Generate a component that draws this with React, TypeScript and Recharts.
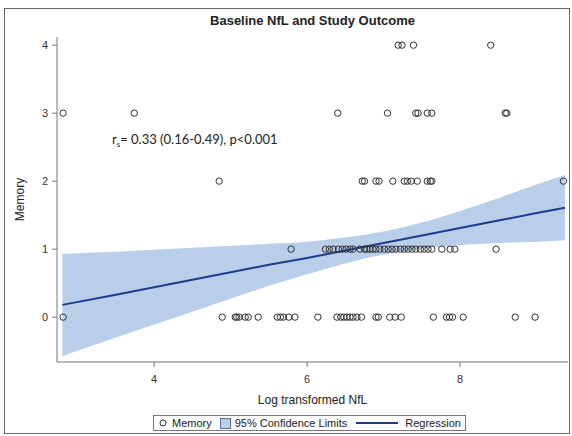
import { ComposedChart, Scatter, Line, Area, XAxis, YAxis } from 'recharts'

// Log transformed NfL for each memory score
const memory0 = [2.81, 4.89, 5.06, 5.08, 5.11, 5.19, 5.23, 5.36, 5.61, 5.65, 5.69, 5.76, 5.84, 6.14, 6.39, 6.44, 6.48, 6.52, 6.56, 6.6, 6.65, 6.71, 6.9, 6.93, 7.08, 7.15, 7.23, 7.65, 7.82, 7.86, 7.9, 8.04, 8.72, 8.98]
const memory1 = [5.79, 6.24, 6.29, 6.34, 6.41, 6.46, 6.51, 6.56, 6.6, 6.69, 6.75, 6.78, 6.82, 6.86, 6.9, 6.95, 7.01, 7.06, 7.11, 7.16, 7.22, 7.27, 7.32, 7.37, 7.42, 7.48, 7.53, 7.58, 7.63, 7.76, 7.87, 7.93, 8.47]
const memory2 = [4.85, 6.72, 6.75, 6.9, 6.94, 7.12, 7.27, 7.31, 7.36, 7.44, 7.57, 7.61, 7.63, 9.35]
const memory3 = [2.81, 3.74, 6.4, 7.05, 7.42, 7.45, 7.57, 7.63, 8.59, 8.61]
const memory4 = [7.19, 7.24, 7.39, 8.4]

// regression fit and 95% confidence limits
const fitX = [2.8, 3.5, 4, 4.5, 5, 5.5, 6, 6.5, 7, 7.5, 8, 8.5, 9, 9.37]
const fitY = [0.18, 0.33, 0.44, 0.55, 0.66, 0.77, 0.87, 0.98, 1.09, 1.2, 1.31, 1.42, 1.53, 1.61]
const lowerCL = [-0.57, -0.3, -0.11, 0.08, 0.27, 0.46, 0.63, 0.79, 0.92, 1.01, 1.06, 1.09, 1.11, 1.13]
const upperCL = [0.93, 0.96, 0.99, 1.02, 1.05, 1.08, 1.11, 1.17, 1.26, 1.39, 1.56, 1.75, 1.95, 2.09]

const xTicks = [4, 6, 8]
const yTicks = [0, 1, 2, 3, 4]

const points = [memory0, memory1, memory2, memory3, memory4].flatMap((xs, score) =>
  xs.map(x => ({ x, y: score }))
)
const fitData = fitX.map((x, i) => ({ x, fit: fitY[i], band: [lowerCL[i], upperCL[i]] }))

const FONT = '"Liberation Sans", Arial, sans-serif'
const BAND = '#b9cfe9'
const LINE = '#1f3d8c'

const Circle = (props: any) => (
  <circle cx={props.cx} cy={props.cy} r={3.2} fill="none" stroke="#333" strokeWidth={1} />
)

const LegendBox = () => (
  <div style={{
    position: 'absolute', left: 153, top: 415, display: 'flex', alignItems: 'center',
    border: '1px solid #777', height: 16, fontSize: 11, color: '#222', fontFamily: FONT,
    padding: '0 4px', boxSizing: 'border-box', background: '#fff'
  }}>
    <svg width={10} height={10}><circle cx={5} cy={5} r={3} fill="none" stroke="#333" /></svg>
    <span style={{ marginLeft: 4 }}>Memory</span>
    <span style={{ display: 'inline-block', width: 9, height: 9, background: BAND, border: '1px solid #5a6f90', marginLeft: 8 }} />
    <span style={{ marginLeft: 4 }}>95% Confidence Limits</span>
    <span style={{ display: 'inline-block', width: 42, height: 2, background: LINE, marginLeft: 9 }} />
    <span style={{ marginLeft: 7 }}>Regression</span>
  </div>
)

export default function App() {
  return (
    <div style={{ position: 'fixed', left: 0, top: 0, width: 572, height: 436, background: '#fff', fontFamily: FONT }}>
      <div style={{ position: 'absolute', left: 4, top: 8, width: 566, height: 426, border: '1px solid #666', boxSizing: 'border-box' }} />
      <div style={{ position: 'absolute', left: 57, width: 511, top: 13, textAlign: 'center', fontWeight: 'bold', fontSize: 13, color: '#222' }}>
        Baseline NfL and Study Outcome
      </div>
      <ComposedChart
        width={572}
        height={436}
        margin={{ top: 37, right: 4, bottom: 44, left: 0 }}
        style={{ position: 'absolute', left: 0, top: 0 }}
      >
        <XAxis
          type="number"
          dataKey="x"
          domain={[2.73, 9.41]}
          ticks={xTicks}
          allowDataOverflow
          height={30}
          tickSize={5}
          tickMargin={8}
          stroke="#777"
          tick={{ fontSize: 11, fill: '#333' }}
          label={{ value: 'Log transformed NfL', position: 'bottom', offset: 3, fontSize: 12, fill: '#222' }}
        />
        <XAxis xAxisId="top" orientation="top" type="number" domain={[2.73, 9.41]} height={0} tick={false} tickLine={false} stroke="#777" />
        <YAxis
          type="number"
          domain={[-0.66, 4.12]}
          ticks={yTicks}
          allowDataOverflow
          width={57}
          tickSize={5}
          tickMargin={4}
          stroke="#777"
          tick={{ fontSize: 11, fill: '#333' }}
          label={{ value: 'Memory', angle: -90, position: 'insideLeft', offset: 20, fontSize: 12, fill: '#222', style: { textAnchor: 'middle' } }}
        />
        <YAxis yAxisId="right" orientation="right" type="number" domain={[-0.66, 4.12]} width={0} tick={false} tickLine={false} stroke="#777" />
        <Area
          data={fitData}
          dataKey="band"
          type="monotone"
          fill={BAND}
          fillOpacity={1}
          stroke="none"
          name="95% Confidence Limits"
          isAnimationActive={false}
        />
        <Line
          data={fitData}
          dataKey="fit"
          type="linear"
          stroke={LINE}
          strokeWidth={2}
          dot={false}
          name="Regression"
          isAnimationActive={false}
        />
        <Scatter data={points} dataKey="y" shape={Circle} name="Memory" isAnimationActive={false} />
      </ComposedChart>
      <LegendBox />
      <div style={{ position: 'absolute', left: 112, top: 131, fontSize: 13, color: '#222', fontFamily: 'Lato, sans-serif' }}>
        r<sub style={{ fontSize: 8, verticalAlign: -3 }}>s</sub>= 0.33 (0.16-0.49), p&lt;0.001
      </div>
    </div>
  )
}
